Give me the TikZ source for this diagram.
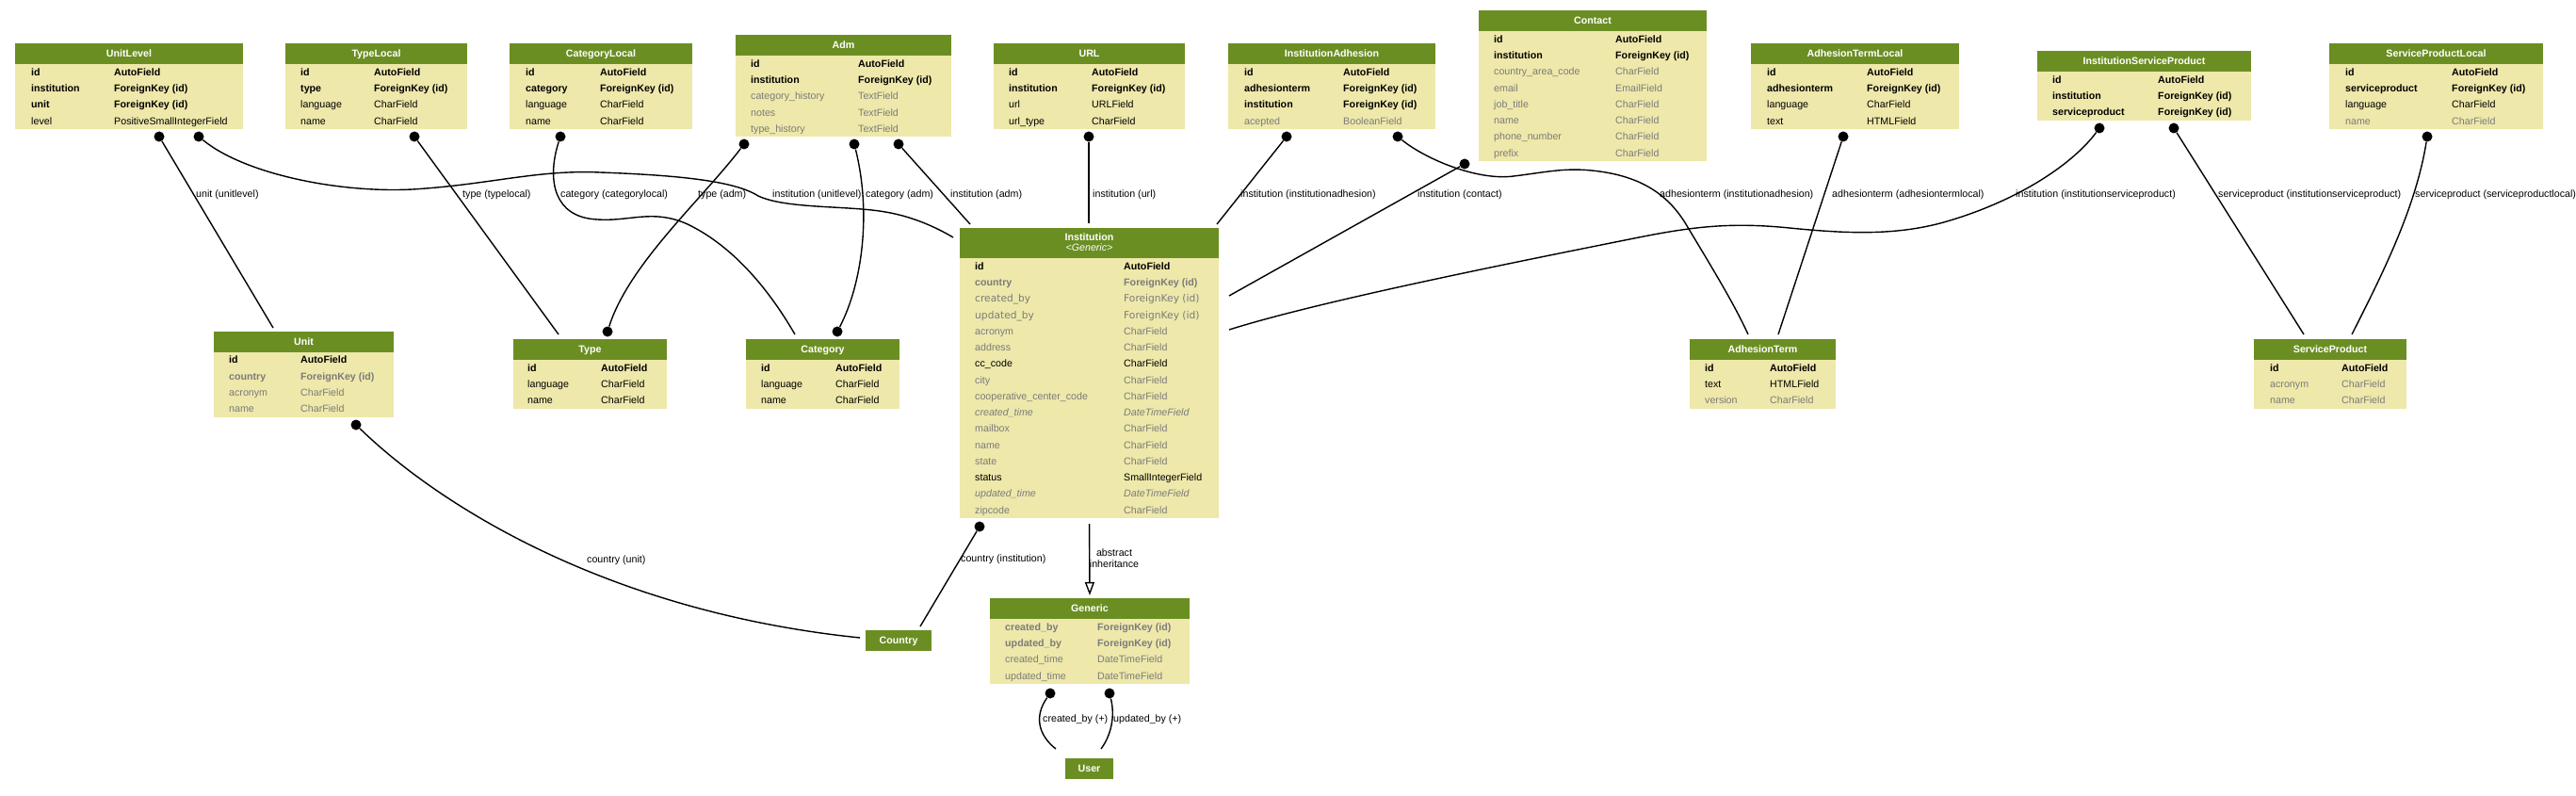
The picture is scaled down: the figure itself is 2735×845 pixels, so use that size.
\documentclass[tikz,border=0pt]{standalone}
\usepackage{fontspec}
\setmainfont{Liberation Sans}
\newfontfamily\dejavufam{DejaVu Sans}
\usetikzlibrary{arrows.meta}
\definecolor{headc}{HTML}{6B8E23}
\definecolor{bodyc}{HTML}{EEE8AA}
\definecolor{grayt}{HTML}{7B7B7B}
\newcommand\tfs{\fontsize{10.67pt}{12pt}\selectfont}
\tikzset{
  hdr/.style={text=white, font=\tfs\bfseries, inner sep=0pt, anchor=base},
  fb/.style={font=\tfs\bfseries, inner sep=0pt, anchor=base west},
  fr/.style={font=\tfs, inner sep=0pt, anchor=base west},
  fg/.style={font=\tfs, text=grayt, inner sep=0pt, anchor=base west},
  fbg/.style={font=\tfs\bfseries, text=grayt, inner sep=0pt, anchor=base west},
  fig/.style={font=\tfs\itshape, text=grayt, inner sep=0pt, anchor=base west},
  fdg/.style={font=\dejavufam\tfs, text=grayt, inner sep=0pt, anchor=base west},
  lbl/.style={font=\tfs, inner sep=0pt, anchor=base west},
  lblc/.style={font=\tfs, inner sep=0pt, anchor=base},
  dotn/.style={circle, fill=black, inner sep=0pt, minimum size=11pt},
  edge/.style={line width=1.4pt, black},
  tbox/.style={inner sep=0pt, outer sep=0pt, anchor=north west}
}
% #1 id, #2 left, #3 right, #4 top, #5 header height, #6 rows, #7 header text
\newcommand\mktable[7]{%
  \pgfmathsetmacro\tbot{#4+#5+#6*17.25}%
  \pgfmathsetmacro\rowtop{#4+#5}%
  \pgfmathsetmacro\hbase{#4+#5/2+3.8}%
  \pgfmathsetmacro\hmid{(#2+#3)/2}%
  \fill[bodyc] (#2,#4) rectangle (#3,\tbot);
  \fill[headc] (#2,#4) rectangle (#3,\rowtop);
  \node[tbox, minimum width={(#3-#2)*1pt}, minimum height={(\tbot-#4)*1pt}] (#1) at (#2,#4) {};
  \node[hdr] (#1-hd) at (\hmid,\hbase) {#7};
}
% #1 id, #2 row index, #3 style, #4 name, #5 type
\newcommand\frow[5]{%
  \pgfmathsetmacro\rbase{\rowtop+(#2-0.5)*17.25+3.8}%
  \node[#3] (#1-n#2) at (\nx,\rbase) {#4};
  \node[#3] (#1-t#2) at (\tx,\rbase) {#5};
}
\begin{document}
\begin{tikzpicture}[x=1pt,y=-1pt]
\useasboundingbox (0,0) rectangle (2735,845);

% ---------------- rank 1 ----------------
\mktable{unitlevel}{16}{258}{46}{22}{4}{UnitLevel}
\def\nx{33}\def\tx{121}
\frow{unitlevel}{1}{fb}{id}{AutoField}
\frow{unitlevel}{2}{fb}{institution}{ForeignKey (id)}
\frow{unitlevel}{3}{fb}{unit}{ForeignKey (id)}
\frow{unitlevel}{4}{fr}{level}{PositiveSmallIntegerField}

\mktable{typelocal}{303}{496}{46}{22}{4}{TypeLocal}
\def\nx{319}\def\tx{397}
\frow{typelocal}{1}{fb}{id}{AutoField}
\frow{typelocal}{2}{fb}{type}{ForeignKey (id)}
\frow{typelocal}{3}{fr}{language}{CharField}
\frow{typelocal}{4}{fr}{name}{CharField}

\mktable{catlocal}{541}{735}{46}{22}{4}{CategoryLocal}
\def\nx{558}\def\tx{637}
\frow{catlocal}{1}{fb}{id}{AutoField}
\frow{catlocal}{2}{fb}{category}{ForeignKey (id)}
\frow{catlocal}{3}{fr}{language}{CharField}
\frow{catlocal}{4}{fr}{name}{CharField}

\mktable{adm}{781}{1010}{37}{22}{5}{Adm}
\def\nx{797}\def\tx{911}
\frow{adm}{1}{fb}{id}{AutoField}
\frow{adm}{2}{fb}{institution}{ForeignKey (id)}
\frow{adm}{3}{fg}{category\_history}{TextField}
\frow{adm}{4}{fg}{notes}{TextField}
\frow{adm}{5}{fg}{type\_history}{TextField}

\mktable{url}{1055}{1258}{46}{22}{4}{URL}
\def\nx{1071}\def\tx{1159}
\frow{url}{1}{fb}{id}{AutoField}
\frow{url}{2}{fb}{institution}{ForeignKey (id)}
\frow{url}{3}{fr}{url}{URLField}
\frow{url}{4}{fr}{url\_type}{CharField}

\mktable{instadh}{1304}{1524}{46}{22}{4}{InstitutionAdhesion}
\def\nx{1321}\def\tx{1426}
\frow{instadh}{1}{fb}{id}{AutoField}
\frow{instadh}{2}{fb}{adhesionterm}{ForeignKey (id)}
\frow{instadh}{3}{fb}{institution}{ForeignKey (id)}
\frow{instadh}{4}{fg}{acepted}{BooleanField}

\mktable{contact}{1570}{1812}{11}{22}{8}{Contact}
\def\nx{1586}\def\tx{1715}
\frow{contact}{1}{fb}{id}{AutoField}
\frow{contact}{2}{fb}{institution}{ForeignKey (id)}
\frow{contact}{3}{fg}{country\_area\_code}{CharField}
\frow{contact}{4}{fg}{email}{EmailField}
\frow{contact}{5}{fg}{job\_title}{CharField}
\frow{contact}{6}{fg}{name}{CharField}
\frow{contact}{7}{fg}{phone\_number}{CharField}
\frow{contact}{8}{fg}{prefix}{CharField}

\mktable{atlocal}{1859}{2080}{46}{22}{4}{AdhesionTermLocal}
\def\nx{1876}\def\tx{1982}
\frow{atlocal}{1}{fb}{id}{AutoField}
\frow{atlocal}{2}{fb}{adhesionterm}{ForeignKey (id)}
\frow{atlocal}{3}{fr}{language}{CharField}
\frow{atlocal}{4}{fr}{text}{HTMLField}

\mktable{isp}{2163}{2390}{54}{22}{3}{InstitutionServiceProduct}
\def\nx{2179}\def\tx{2291}
\frow{isp}{1}{fb}{id}{AutoField}
\frow{isp}{2}{fb}{institution}{ForeignKey (id)}
\frow{isp}{3}{fb}{serviceproduct}{ForeignKey (id)}

\mktable{splocal}{2473}{2700}{46}{22}{4}{ServiceProductLocal}
\def\nx{2490}\def\tx{2603}
\frow{splocal}{1}{fb}{id}{AutoField}
\frow{splocal}{2}{fb}{serviceproduct}{ForeignKey (id)}
\frow{splocal}{3}{fr}{language}{CharField}
\frow{splocal}{4}{fg}{name}{CharField}

% ---------------- rank 2 ----------------
\mktable{unit}{227}{418}{351.5}{22}{4}{Unit}
\def\nx{243}\def\tx{319}
\frow{unit}{1}{fb}{id}{AutoField}
\frow{unit}{2}{fbg}{country}{ForeignKey (id)}
\frow{unit}{3}{fg}{acronym}{CharField}
\frow{unit}{4}{fg}{name}{CharField}

\mktable{type}{545}{708}{360}{22}{3}{Type}
\def\nx{560}\def\tx{638}
\frow{type}{1}{fb}{id}{AutoField}
\frow{type}{2}{fr}{language}{CharField}
\frow{type}{3}{fr}{name}{CharField}

\mktable{category}{792}{955}{360}{22}{3}{Category}
\def\nx{808}\def\tx{887}
\frow{category}{1}{fb}{id}{AutoField}
\frow{category}{2}{fr}{language}{CharField}
\frow{category}{3}{fr}{name}{CharField}

\mktable{institution}{1019}{1294}{242}{32}{16}{}
\node[hdr] (inst-h1) at (1156.5,255) {Institution};
\node[hdr, font=\tfs\itshape] (inst-h2) at (1156.5,266.5) {<Generic>};
\def\nx{1035}\def\tx{1193}
\frow{institution}{1}{fb}{id}{AutoField}
\frow{institution}{2}{fbg}{country}{ForeignKey (id)}
\frow{institution}{3}{fdg}{created\_by}{ForeignKey (id)}
\frow{institution}{4}{fdg}{updated\_by}{ForeignKey (id)}
\frow{institution}{5}{fg}{acronym}{CharField}
\frow{institution}{6}{fg}{address}{CharField}
\frow{institution}{7}{fr}{cc\_code}{CharField}
\frow{institution}{8}{fg}{city}{CharField}
\frow{institution}{9}{fg}{cooperative\_center\_code}{CharField}
\frow{institution}{10}{fig}{created\_time}{DateTimeField}
\frow{institution}{11}{fg}{mailbox}{CharField}
\frow{institution}{12}{fg}{name}{CharField}
\frow{institution}{13}{fg}{state}{CharField}
\frow{institution}{14}{fr}{status}{SmallIntegerField}
\frow{institution}{15}{fig}{updated\_time}{DateTimeField}
\frow{institution}{16}{fg}{zipcode}{CharField}

\mktable{adhterm}{1794}{1949}{360}{22}{3}{AdhesionTerm}
\def\nx{1810}\def\tx{1879}
\frow{adhterm}{1}{fb}{id}{AutoField}
\frow{adhterm}{2}{fr}{text}{HTMLField}
\frow{adhterm}{3}{fg}{version}{CharField}

\mktable{servprod}{2393}{2555}{360}{22}{3}{ServiceProduct}
\def\nx{2410}\def\tx{2486}
\frow{servprod}{1}{fb}{id}{AutoField}
\frow{servprod}{2}{fg}{acronym}{CharField}
\frow{servprod}{3}{fg}{name}{CharField}

% ---------------- rank 3 / 4 ----------------
\mktable{country}{919}{989}{669}{22}{0}{Country}

\mktable{generic}{1051}{1263}{635}{22}{4}{Generic}
\def\nx{1067}\def\tx{1165}
\frow{generic}{1}{fbg}{created\_by}{ForeignKey (id)}
\frow{generic}{2}{fbg}{updated\_by}{ForeignKey (id)}
\frow{generic}{3}{fg}{created\_time}{DateTimeField}
\frow{generic}{4}{fg}{updated\_time}{DateTimeField}

\mktable{user}{1131}{1182}{805}{22}{0}{User}

% ---------------- connectors ----------------
% unit (unitlevel)
\node[dotn] (d1) at (169,145) {};
\coordinate (c1) at (290,348);
\draw[edge] (d1) -- (c1);
\node[lbl] (l1) at (208,210) {unit (unitlevel)};

% institution (unitlevel)
\node[dotn] (d2) at (211,145) {};
\coordinate (c2) at (1012,252);
\draw[edge] (d2) .. controls (260,185) and (360,205) .. (438,201)
  .. controls (520,196) and (570,180) .. (637,183)
  .. controls (720,186) and (780,192) .. (805,208)
  .. controls (835,222) and (900,218) .. (940,225)
  .. controls (970,230) and (995,242) .. (c2);
\node[lbl] (l2) at (820,210) {institution (unitlevel)};

% type (typelocal)
\node[dotn] (d3) at (440,145) {};
\coordinate (c3) at (593,355);
\draw[edge] (d3) -- (c3);
\node[lbl] (l3) at (491,210) {type (typelocal)};

% category (categorylocal)
\node[dotn] (d4) at (595,145) {};
\coordinate (c4) at (844,355);
\draw[edge] (d4) .. controls (582,185) and (585,225) .. (625,232)
  .. controls (665,238) and (690,220) .. (730,238)
  .. controls (780,262) and (818,310) .. (c4);
\node[lbl] (l4) at (595,210) {category (categorylocal)};

% type (adm)
\node[dotn] (d5a) at (790,153) {};
\node[dotn] (d5b) at (645,352) {};
\draw[edge] (d5a) .. controls (745,212) and (668,280) .. (d5b);
\node[lbl] (l5) at (741,210) {type (adm)};

% category (adm)
\node[dotn] (d6a) at (907,153) {};
\node[dotn] (d6b) at (889,352) {};
\draw[edge] (d6a) .. controls (925,225) and (916,300) .. (d6b);
\node[lbl] (l6) at (919,210) {category (adm)};

% institution (adm)
\node[dotn] (d7) at (954,153) {};
\coordinate (c7) at (1030,238);
\draw[edge] (d7) -- (c7);
\node[lbl] (l7) at (1009,210) {institution (adm)};

% institution (url)
\node[dotn] (d8) at (1156,145) {};
\coordinate (c8) at (1156,237);
\draw[edge] (d8) -- (c8);
\node[lbl] (l8) at (1160,210) {institution (url)};

% institution (institutionadhesion)
\node[dotn] (d9) at (1366,145) {};
\coordinate (c9) at (1292,238);
\draw[edge] (d9) -- (c9);
\node[lbl] (l9) at (1317,210) {institution (institutionadhesion)};

% adhesionterm (institutionadhesion)
\node[dotn] (d10) at (1484,145) {};
\coordinate (c10) at (1856,355);
\draw[edge] (d10) .. controls (1515,170) and (1570,192) .. (1607,187)
  .. controls (1640,183) and (1660,178) .. (1690,181)
  .. controls (1740,186) and (1770,205) .. (1790,238)
  .. controls (1815,280) and (1840,320) .. (c10);
\node[lbl] (l10) at (1762,210) {adhesionterm (institutionadhesion)};

% institution (contact)
\node[dotn] (d11) at (1555,174) {};
\coordinate (c11) at (1305,314);
\draw[edge] (d11) -- (c11);
\node[lbl] (l11) at (1505,210) {institution (contact)};

% adhesionterm (adhesiontermlocal)
\node[dotn] (d12) at (1957,145) {};
\coordinate (c12) at (1888,355);
\draw[edge] (d12) -- (c12);
\node[lbl] (l12) at (1945,210) {adhesionterm (adhesiontermlocal)};

% institution (institutionserviceproduct)
\node[dotn] (d13) at (2229,136) {};
\coordinate (c13) at (1305,350);
\draw[edge] (d13) .. controls (2200,175) and (2140,215) .. (2060,237)
  .. controls (2010,250) and (1960,248) .. (1900,242)
  .. controls (1840,236) and (1800,240) .. (1740,252)
  .. controls (1600,280) and (1400,320) .. (c13);
\node[lbl] (l13) at (2140,210) {institution (institutionserviceproduct)};

% serviceproduct (institutionserviceproduct)
\node[dotn] (d14) at (2308,136) {};
\coordinate (c14) at (2446,355);
\draw[edge] (d14) -- (c14);
\node[lbl] (l14) at (2355,210) {serviceproduct (institutionserviceproduct)};

% serviceproduct (serviceproductlocal)
\node[dotn] (d15) at (2577,145) {};
\coordinate (c15) at (2497,355);
\draw[edge] (d15) .. controls (2565,220) and (2530,290) .. (c15);
\node[lbl] (l15) at (2564,210) {serviceproduct (serviceproductlocal)};

% country (unit)
\node[dotn] (d16) at (378,451) {};
\coordinate (c16) at (913,677);
\draw[edge] (d16) .. controls (470,540) and (650,650) .. (c16);
\node[lbl] (l16) at (623,597) {country (unit)};

% country (institution)
\node[dotn] (d17) at (1040,559) {};
\coordinate (c17) at (977,665);
\draw[edge] (d17) -- (c17);
\node[lbl] (l17) at (1020,596) {country (institution)};

% abstract inheritance
\draw[edge, shorten <=6pt, shorten >=3pt, -{Triangle[open, length=14pt, width=10pt, line width=1.4pt]}] (institution.south) -- (generic.north);
\node[lblc] (l18a) at (1183,590) {abstract};
\node[lblc] (l18b) at (1183,602) {inheritance};

% created_by / updated_by
\node[dotn] (d19a) at (1115,736) {};
\node[dotn] (d19b) at (1178,736) {};
\coordinate (c19a) at (1121,795);
\coordinate (c19b) at (1169,795);
\draw[edge] (d19a) .. controls (1098,760) and (1102,780) .. (c19a);
\draw[edge] (d19b) .. controls (1184,760) and (1180,780) .. (c19b);
\node[lbl] (l19a) at (1107,766) {created\_by (+)};
\node[lbl] (l19b) at (1182,766) {updated\_by (+)};
\end{tikzpicture}
\end{document}
